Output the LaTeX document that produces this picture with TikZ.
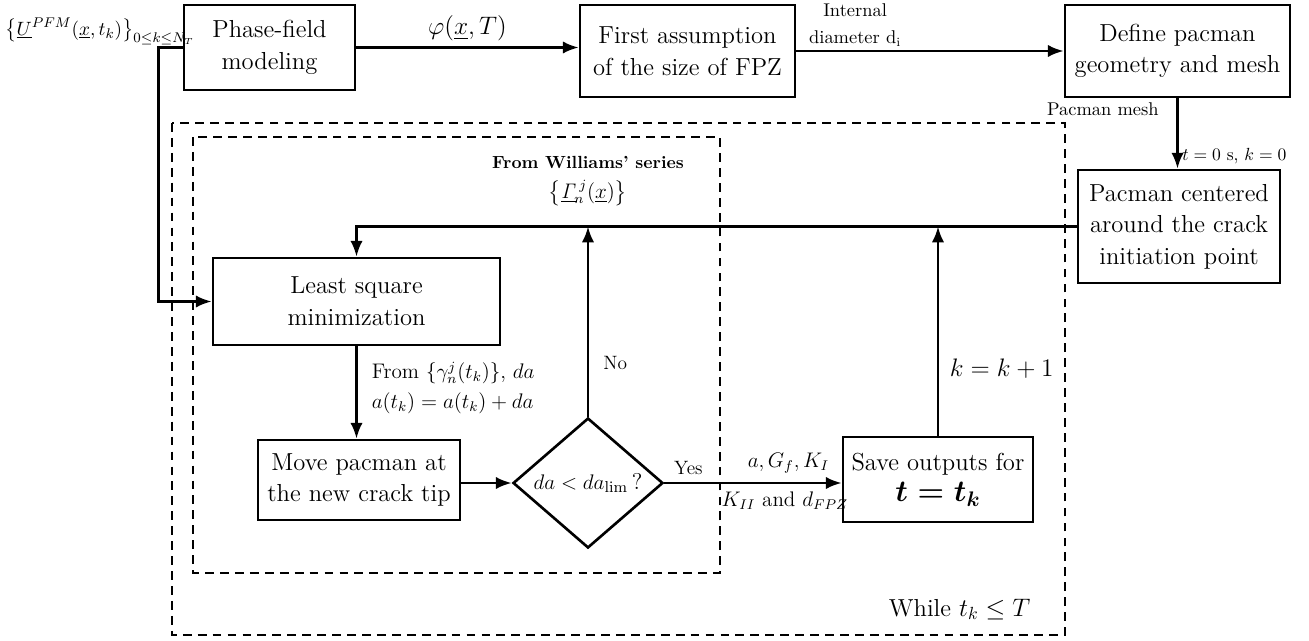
\documentclass[tikz,border=0pt]{standalone}
\usepackage{amsmath,amssymb}
\usetikzlibrary{positioning,calc,shapes.geometric,arrows.meta}
\tikzset{
  flow box/.style={draw,line width=1.5pt,align=center,
    font=\fontsize{14}{18}\selectfont,inner sep=4pt},
  flow test/.style={draw,line width=1.5pt,diamond,aspect=1.15,inner sep=-6pt,
    minimum width=3cm,minimum height=2.6cm,font=\fontsize{13}{16}\selectfont},
  flow arrow/.style={->,>={Latex[length=9pt,width=7pt]},line width=1.5pt},
  flow frame/.style={line width=1.3pt,dash pattern=on 5pt off 3.5pt},
  flow label/.style={font=\fontsize{10.5}{15}\selectfont,inner sep=2pt},
  flow math/.style={font=\fontsize{14}{18}\selectfont,inner sep=3pt}
}

\begin{document}
\begin{tikzpicture}
  \useasboundingbox (0,0) rectangle (26.18,-12.82);
  % top row
  \node[flow box,minimum width=3.42cm,minimum height=1.7cm] (phase) at (5.39,-0.95) {Phase-field\\modeling};
  \node[flow box,minimum width=4.3cm,minimum height=1.84cm] (size) at (13.75,-1.02) {First assumption\\of the size of FPZ};
  \node[flow box,minimum width=4.5cm,minimum height=1.84cm] (mesh) at (23.55,-1.02) {Define pacman\\geometry and mesh};
  \node[flow box,minimum width=4.04cm,minimum height=2.26cm] (center) at (23.58,-4.53) {Pacman centered\\around the crack\\initiation point};
  \node[font=\fontsize{11}{14}\selectfont,anchor=west,inner sep=0pt] (ufield) at (0.1,-0.63)
    {$\big\{\underline{U}^{PFM}(\underline{x},t_k)\big\}_{0\le k\le N_T}$};
  % loop
  \node[flow box,minimum width=5.74cm,minimum height=1.74cm] (lsq) at (7.13,-6.03) {Least square\\minimization};
  \node[flow box,minimum width=4.04cm,minimum height=1.6cm] (move) at (7.18,-9.6) {Move pacman at\\the new crack tip};
  \node[flow test] (test) at (11.76,-9.66) {$da<da_{\mathrm{lim}}$\,?};
  \node[flow box,minimum width=3.8cm,minimum height=1.7cm] (save) at (18.76,-9.59)
    {Save outputs for\\{\fontsize{17}{21}\selectfont\boldmath$t=t_k$}};
  \node[align=center,font=\fontsize{10}{14}\selectfont] (series) at (11.76,-3.62)
    {\textbf{From Williams' series}\\[3pt]{\fontsize{12}{14}\selectfont$\big\{\underline{\mathit{\Gamma}}_{\!n}^{\,j}(\underline{x})\big\}$}};
  % frames
  \draw[flow frame] (3.44,-2.46) rectangle (21.3,-12.7);
  \draw[flow frame] (3.86,-2.74) rectangle (14.4,-11.46);
  \node[flow math,anchor=base east] (cond) at (20.72,-12.32) {While $t_k\le T$};
  % connectors
  \draw[flow arrow] (phase.east) -- node[above,flow math] (phi) {$\varphi(\underline{x},T)$} (phase.east -| size.west);
  \draw[flow arrow] (size.east) -- node[pos=0.22,above,align=center,flow label] (diam) {Internal\\diameter d$_{\mathrm{i}}$} (mesh.west);
  \draw[flow arrow] (mesh.south) -- node[pos=0.82,right,flow label,font=\fontsize{10}{14}\selectfont] (init) {$t=0$ s, $k=0$} (mesh.south |- center.north);
  \node[flow label,anchor=north east] (meshlbl) at ($(mesh.south)+(-0.3,-0.02)$) {Pacman mesh};
  \draw[flow arrow] (center.west) -| (lsq.north);
  \draw[flow arrow] (phase.west) -- ++(-0.48,0) |- (lsq.west);
  \draw[flow arrow] (lsq.south) -- node[pos=0.45,right,xshift=6pt,align=left,flow label,font=\fontsize{12}{17}\selectfont] (update)
    {From $\{\gamma_n^j(t_k)\}$, $da$\\$a(t_k)=a(t_k)+da$} (lsq.south |- move.north);
  \draw[flow arrow] (move.east |- test.west) -- (test.west);
  \draw[flow arrow] (test.north) -- node[pos=0.28,right,xshift=6pt,flow label,font=\fontsize{11}{14}\selectfont] (no) {No} (test.north |- center.west);
  \draw[flow arrow] (save.north) -- node[pos=0.32,right,xshift=3pt,flow math] (incr) {$k=k+1$} (save.north |- center.west);
  \draw[flow arrow] (test.east) -- (test.east -| save.west);
  \node[flow label,font=\fontsize{11}{14}\selectfont,anchor=south west] (yes) at ($(test.east)+(0.12,0.08)$) {Yes};
  \node[flow label,font=\fontsize{12}{14}\selectfont,anchor=south] (keys) at ($(test.east)!0.7!(test.east -| save.west)+(0,0.12)$) {$a,G_f,K_I$};
  \node[flow label,font=\fontsize{12}{14}\selectfont,anchor=north] (fpz) at ($(test.east)!0.68!(test.east -| save.west)+(0,-0.1)$) {$K_{II}$ and $d_{FPZ}$};
\end{tikzpicture}
\end{document}
